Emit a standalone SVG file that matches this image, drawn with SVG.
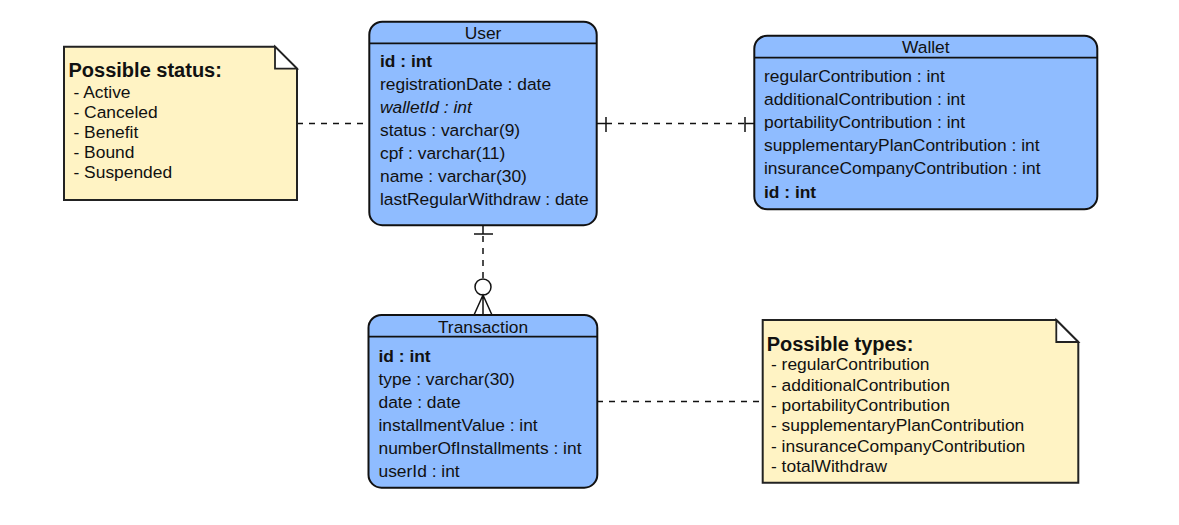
<svg xmlns="http://www.w3.org/2000/svg" width="1179" height="525" viewBox="0 0 1179 525">
<style>
.ent{fill:#8FBCFF;stroke:#111;stroke-width:2}
.div{stroke:#111;stroke-width:1.8;fill:none}
.note{fill:#FFF3C4;stroke:#222;stroke-width:2}
.fold{fill:#fff;stroke:#222;stroke-width:1.8}
text{font-family:"Liberation Sans",Arial,sans-serif;font-size:17.4px;fill:#111}
.t{text-anchor:middle}
.b{font-weight:bold}
.i{font-style:italic}
.h{font-weight:bold;font-size:20px}
.dash{stroke:#111;stroke-width:1.5;stroke-dasharray:6 6;fill:none}
.sol{stroke:#111;stroke-width:1.5;fill:none}
</style>
<rect width="1179" height="525" fill="#fff"/>
<g id="connectors">
  <line class="dash" x1="297" y1="123.5" x2="369" y2="123.5"/>
  <line class="sol" x1="597" y1="123.5" x2="606" y2="123.5"/>
  <line class="sol" x1="606" y1="117" x2="606" y2="132"/>
  <line class="dash" x1="606" y1="123.5" x2="745" y2="123.5"/>
  <line class="sol" x1="745" y1="117" x2="745" y2="132"/>
  <line class="sol" x1="745" y1="123.5" x2="754" y2="123.5"/>
  <line class="sol" x1="483" y1="225" x2="483" y2="234"/>
  <line class="sol" x1="474" y1="234" x2="493" y2="234"/>
  <line class="dash" x1="483" y1="236" x2="483" y2="279"/>
  <circle class="sol" cx="483" cy="287" r="8" fill="#fff"/>
  <path class="sol" d="M474,315 L483,295 L492,315 M483,295 V315"/>
  <line class="dash" x1="597" y1="401.5" x2="763" y2="401.5"/>
</g>
<g id="note-status">
  <path class="note" d="M64,46.7 H275 L297,68.7 V200 H64 Z"/>
  <path class="fold" d="M275,46.7 L297,68.7 H275 Z"/>
  <text class="h" x="68.5" y="77">Possible status:</text>
  <text x="73.5" y="97.5">- Active</text>
  <text x="73.5" y="117.6">- Canceled</text>
  <text x="73.5" y="137.8">- Benefit</text>
  <text x="73.5" y="158">- Bound</text>
  <text x="73.5" y="178.1">- Suspended</text>
</g>
<g id="user">
  <rect class="ent" x="369.3" y="21.7" width="227.4" height="203.5" rx="13"/>
  <line class="div" x1="369.3" y1="43.3" x2="596.7" y2="43.3"/>
  <text class="t" x="483" y="39">User</text>
  <text class="b" x="380" y="66.5">id : int</text>
  <text x="380" y="89.7">registrationDate : date</text>
  <text class="i" x="380" y="112.8">walletId : int</text>
  <text x="380" y="136">status : varchar(9)</text>
  <text x="380" y="159.1">cpf : varchar(11)</text>
  <text x="380" y="182.3">name : varchar(30)</text>
  <text x="380" y="205.4">lastRegularWithdraw : date</text>
</g>
<g id="wallet">
  <rect class="ent" x="754.3" y="35.7" width="343" height="173.6" rx="13"/>
  <line class="div" x1="754.3" y1="57.7" x2="1097.3" y2="57.7"/>
  <text class="t" x="925.8" y="53">Wallet</text>
  <text x="764" y="82">regularContribution : int</text>
  <text x="764" y="105.1">additionalContribution : int</text>
  <text x="764" y="128.2">portabilityContribution : int</text>
  <text x="764" y="151.3">supplementaryPlanContribution : int</text>
  <text x="764" y="174.4">insuranceCompanyContribution : int</text>
  <text class="b" x="764" y="197.5">id : int</text>
</g>
<g id="transaction">
  <rect class="ent" x="368.5" y="315" width="228.8" height="172.7" rx="13"/>
  <line class="div" x1="368.5" y1="336.7" x2="597.3" y2="336.7"/>
  <text class="t" x="483" y="332.5">Transaction</text>
  <text class="b" x="378.5" y="361.5">id : int</text>
  <text x="378.5" y="384.5">type : varchar(30)</text>
  <text x="378.5" y="407.5">date : date</text>
  <text x="378.5" y="430.5">installmentValue : int</text>
  <text x="378.5" y="453.5">numberOfInstallments : int</text>
  <text x="378.5" y="476.5">userId : int</text>
</g>
<g id="note-types">
  <path class="note" d="M762.7,320 H1056.3 L1078.3,342 V482.7 H762.7 Z"/>
  <path class="fold" d="M1056.3,320 L1078.3,342 H1056.3 Z"/>
  <text class="h" x="766.7" y="350.5">Possible types:</text>
  <text x="771" y="370.3">- regularContribution</text>
  <text x="771" y="390.6">- additionalContribution</text>
  <text x="771" y="410.9">- portabilityContribution</text>
  <text x="771" y="431.2">- supplementaryPlanContribution</text>
  <text x="771" y="451.5">- insuranceCompanyContribution</text>
  <text x="771" y="471.8">- totalWithdraw</text>
</g>
</svg>
